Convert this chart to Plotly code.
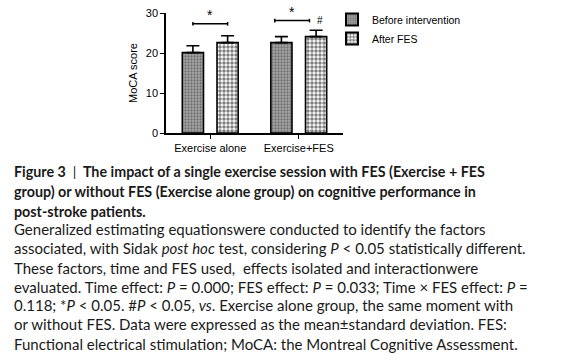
import plotly.graph_objects as go

# ---- data ----
groups = ["Exercise alone", "Exercise+FES"]
series_names = ["Before intervention", "After FES"]
before_mean = [20.1, 22.6]
before_sd = [1.7, 1.5]
after_mean = [22.6, 24.1]
after_sd = [1.7, 1.6]
y_ticks = [0, 10, 20, 30]
sig_bracket_y = [27.3, 28.1]
sig_bracket_shift = [0.0, -0.075]
sig_marks = ["*", "*"]
hash_mark = "#"

caption_title = [
    "Figure 3 &nbsp;<span style='font-weight:normal'>|</span>&nbsp; The impact of a single exercise session with FES (Exercise + FES",
    "group) or without FES (Exercise alone group) on cognitive performance in",
    "post-stroke patients.",
]
caption_body = [
    "Generalized estimating equationswere conducted to identify the factors",
    "associated, with Sidak <i>post hoc</i> test, considering <i>P</i> &lt; 0.05 statistically different.",
    "These factors, time and FES used,  effects isolated and interactionwere",
    "evaluated. Time effect: <i>P</i> = 0.000; FES effect: <i>P</i> = 0.033; Time × FES effect: <i>P</i> =",
    "0.118; *<i>P</i> &lt; 0.05. #<i>P</i> &lt; 0.05, <i>vs</i>. Exercise alone group, the same moment with",
    "or without FES. Data were expressed as the mean±standard deviation. FES:",
    "Functional electrical stimulation; MoCA: the Montreal Cognitive Assessment.",
]

W, H = 573, 361
L, R, T, B = 166, 343, 13, 133


def px(x):
    return (x - L) / (R - L)


def py(y):
    return (B - y) / (B - T)


fig = go.Figure()
fig.add_trace(go.Bar(
    x=groups, y=before_mean, name=series_names[0],
    error_y=dict(type="data", array=before_sd, arrayminus=[0, 0], symmetric=False,
                 color="black", thickness=1.6, width=6.5),
    marker=dict(color="#9a9a9a", line=dict(color="black", width=1.6),
                pattern=dict(shape=".", size=3, solidity=0.45, fgcolor="#333333", bgcolor="#a8a8a8")),
))
fig.add_trace(go.Bar(
    x=groups, y=after_mean, name=series_names[1],
    error_y=dict(type="data", array=after_sd, arrayminus=[0, 0], symmetric=False,
                 color="black", thickness=1.6, width=6.5),
    marker=dict(color="white", line=dict(color="black", width=1.6),
                pattern=dict(shape=".", size=4, solidity=0.6, fgcolor="black", bgcolor="white")),
))

# significance brackets
off = 0.196
for i, yb in enumerate(sig_bracket_y):
    c = i + sig_bracket_shift[i]
    x0, x1 = c - off, c + off
    fig.add_shape(type="line", xref="x", yref="y", x0=x0, x1=x1, y0=yb, y1=yb,
                  line=dict(color="black", width=1.5))
    for xx in (x0, x1):
        fig.add_shape(type="line", xref="x", yref="y", x0=xx, x1=xx, y0=yb - 0.45, y1=yb + 0.45,
                      line=dict(color="black", width=1.5))
    fig.add_annotation(x=c, y=yb, xref="x", yref="y", text=sig_marks[i], showarrow=False,
                       yshift=9, font=dict(family="Liberation Sans, Arial", size=14, color="black"))
fig.add_annotation(x=1 + off, y=after_mean[1] + after_sd[1], xref="x", yref="y", text=hash_mark,
                   showarrow=False, yshift=10, xshift=4,
                   font=dict(family="Liberation Sans, Arial", size=10, color="black"))

# caption
title_y = [171, 191, 211]
for t, yy in zip(caption_title, title_y):
    fig.add_annotation(xref="paper", yref="paper", x=px(12), y=py(yy), xanchor="left", yanchor="middle",
                       text="<b>" + t + "</b>", showarrow=False,
                       font=dict(family="Lato", size=14.3, color="#1a1a1a"))
body_y = [229, 248, 268, 287, 305, 324, 344]
for t, yy in zip(caption_body, body_y):
    fig.add_annotation(xref="paper", yref="paper", x=px(12), y=py(yy), xanchor="left", yanchor="middle",
                       text=t, showarrow=False,
                       font=dict(family="Lato", size=15, color="#1a1a1a"))

fig.update_layout(
    width=W, height=H,
    margin=dict(l=L, r=W - R, t=T, b=H - B, pad=0, autoexpand=False),
    paper_bgcolor="white", plot_bgcolor="white",
    barmode="group", bargap=0.216, bargroupgap=0.39,
    font=dict(family="Liberation Sans, Arial", size=11, color="black"),
    legend=dict(x=px(332), y=py(5), xanchor="left", yanchor="top",
                font=dict(size=10.5, color="black"), bgcolor="rgba(0,0,0,0)",
                tracegroupgap=0, itemsizing="constant"),
    xaxis=dict(range=[-0.5, 1.5], showline=True, linecolor="black", linewidth=1.5,
               ticks="outside", ticklen=4, tickcolor="black", tickwidth=1.2,
               tickfont=dict(size=11), showgrid=False, zeroline=False, automargin=False),
    yaxis=dict(range=[0, 30], tickvals=y_ticks, showline=True, linecolor="black", linewidth=1.5,
               ticks="outside", ticklen=4, tickcolor="black", tickwidth=1.2,
               tickfont=dict(size=11), showgrid=False, zeroline=False, automargin=False,
               title=dict(text="MoCA score", font=dict(size=11), standoff=6)),
    showlegend=True,
)

fig.write_html("out.html", config={"displayModeBar": False},
               post_script="document.body.style.margin='0';document.body.style.overflow='hidden';")
